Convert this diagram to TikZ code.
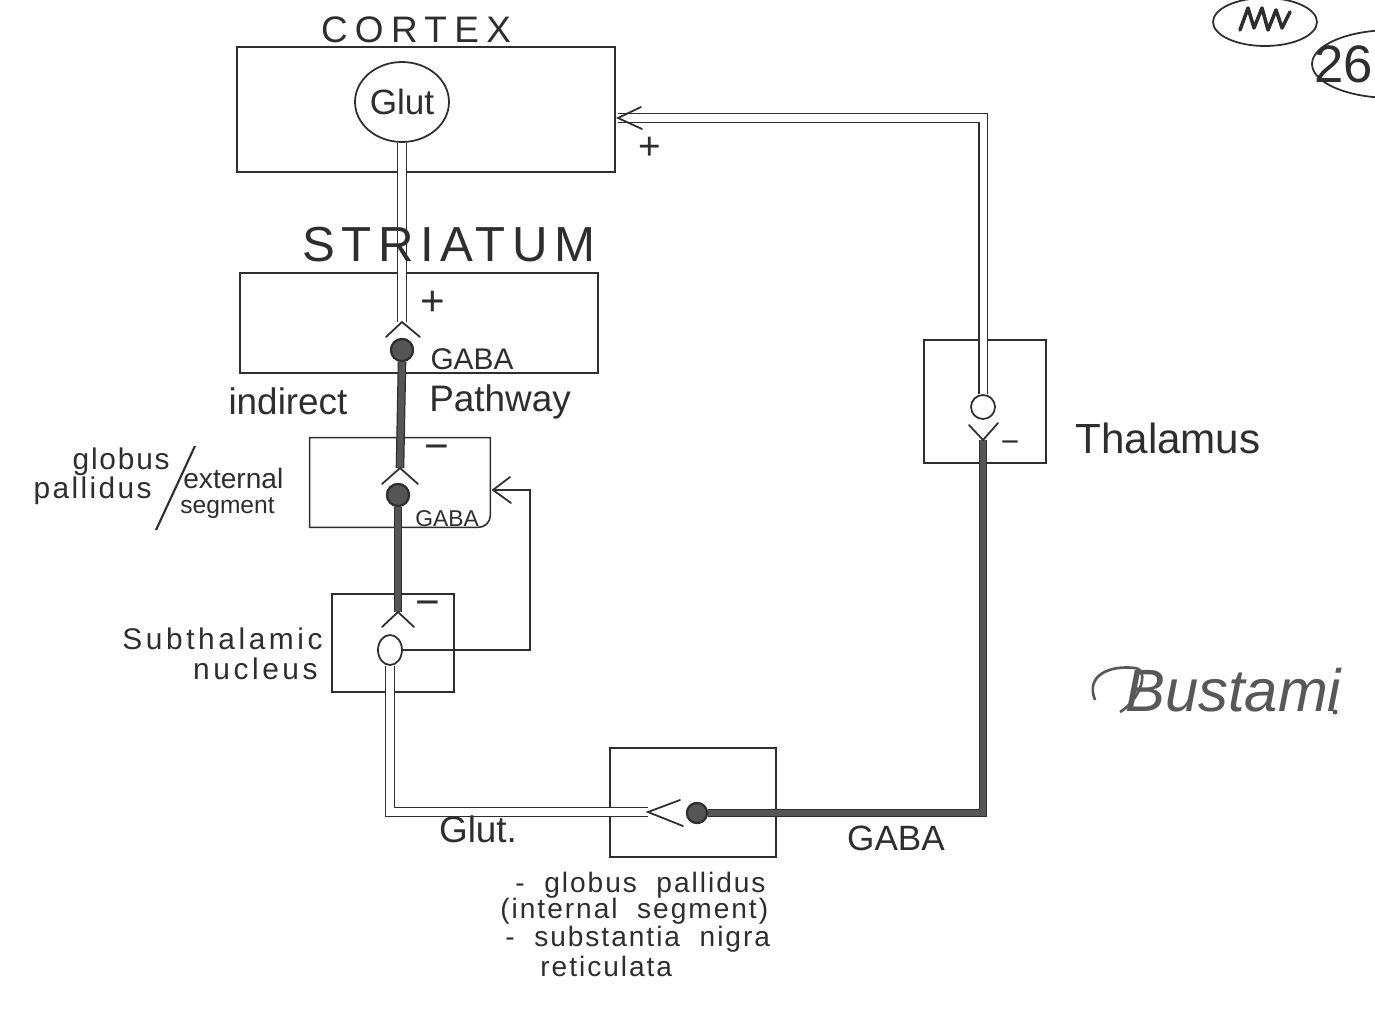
\documentclass[tikz,border=0pt]{standalone}
\usepackage{fontspec}
\setmainfont{Liberation Sans}
\newfontfamily\widefont[LetterSpace=7,WordSpace=2]{Liberation Sans}
\usetikzlibrary{shapes.geometric}
\definecolor{ink}{HTML}{2E2E2E}
\definecolor{axongray}{HTML}{555555}
\newcommand{\fsz}[1]{\fontsize{#1}{#1}\selectfont}
\begin{document}
\begin{tikzpicture}[x=0.02cm,y=-0.02cm,
  region/.style={draw=ink,line width=0.9pt,inner sep=0pt},
  lbl/.style={text=ink,inner sep=0pt},
  excit/.style={draw=ink,line width=0.7pt,double=white,double distance=4pt},
  inhib/.style={draw=ink,line width=0.7pt,double=axongray,double distance=3.5pt},
  forkline/.style={draw=ink,line width=1pt,line cap=round},
  plainline/.style={draw=ink,line width=1pt},
  somaopen/.style={ellipse,draw=ink,line width=1pt,fill=white,inner sep=0pt},
  somafill/.style={circle,draw=ink,line width=1.2pt,fill=axongray,inner sep=0pt,minimum size=0.44cm},
  bottomtext/.style={lbl,anchor=west,font=\widefont\fsz{16}},
]
\fill[white] (0,0) rectangle (1375,1010);
\useasboundingbox (0,0) rectangle (1375,1010);

% ---------- regions ----------
\node[region,minimum width=7.56cm,minimum height=2.5cm] (cortex) at (426,109.5) {};
\node[region,minimum width=7.16cm,minimum height=2cm] (striatum) at (419,323) {};
\node[inner sep=0pt,minimum width=3.6cm,minimum height=1.78cm] (gpe) at (400,482.5) {};
\draw[region] (gpe.south west) -- (gpe.north west) -- (gpe.north east)
  -- ([yshift=0.24cm]gpe.south east) to[out=-90,in=0] ([xshift=-0.24cm]gpe.south east) -- cycle;
\node[region,minimum width=2.44cm,minimum height=1.96cm] (stn) at (393,643) {};
\node[region,minimum width=3.32cm,minimum height=2.18cm] (gpi) at (693,802.5) {};
\node[region,minimum width=2.44cm,minimum height=2.46cm] (thal) at (985,401.5) {};

% ---------- neurons ----------
\node[somaopen,minimum width=1.88cm,minimum height=1.6cm,text=ink,font=\fsz{20}] (glut) at (402,102) {Glut};
\node[somafill] (sn) at (402,350) {};
\node[somafill] (gpn) at (398,495) {};
\node[somaopen,minimum width=0.48cm,minimum height=0.6cm] (stnn) at (390,650) {};
\node[somafill,minimum size=0.4cm] (gpin) at (697,813) {};
\node[somaopen,minimum width=0.48cm,minimum height=0.48cm] (thn) at (983,407) {};

% ---------- fork (terminal) coordinates ----------
\coordinate (sfork) at (402,322);
\coordinate (gfork) at (400,468);
\coordinate (stfork) at (398,612);
\coordinate (gpifork) at (648,812);
\coordinate (thfork) at (983,440);
\coordinate (cxtip) at (618,118);
\coordinate (fbtip) at (493,490);

% ---------- axons ----------
% cortex -> striatum (glutamatergic)
\draw[excit] (glut.south) -- (sfork);
\draw[forkline] (386,337) -- (sfork) -- (420,337);
% striatum -> GPe (GABA)
\draw[inhib] (sn.south) -- (gfork);
\draw[forkline] (382,484) -- (gfork) -- (418,484);
% GPe -> STN (GABA)
\draw[inhib] (gpn.south) -- (stfork);
\draw[forkline] (382,627) -- (stfork) -- (414,627);
% STN -> GPi (Glut)
\draw[excit] (stnn.south) |- (gpifork);
\draw[forkline] (680,800) -- (gpifork) -- (683,826);
% STN -> GPe feedback
\draw[plainline] (stnn.east) -- (530,650) -- (530,490) -- (fbtip);
\draw[forkline] (510,477) -- (fbtip) -- (511,503);
% GPi -> thalamus (GABA)
\draw[inhib] (gpin.east) -- (983,813) -- (thfork);
\draw[forkline] (969,425) -- (thfork) -- (998,423);
% thalamus -> cortex
\draw[excit] (thn.north) |- (cxtip);
\draw[forkline] (641,107) -- (cxtip) -- (642,129);

% redraw somata on top
\node[somafill] at (sn) {};
\node[somafill] at (gpn) {};
\node[somafill,minimum size=0.4cm] at (gpin) {};

% ---------- labels ----------
\node[lbl,font=\fsz{21}\addfontfeatures{LetterSpace=20}] (tcortex) at (416,30) {CORTEX};
\node[lbl,font=\fsz{28}\addfontfeatures{LetterSpace=13}] (tstriatum) at (449,245) {STRIATUM};
\node[lbl,font=\fsz{24}] (splus) at (433,303) {+};
\node[lbl,font=\fsz{17}] (sgaba) at (472,359) {GABA};
\node[lbl,font=\fsz{21}] (tind) at (288,401) {indirect};
\node[lbl,font=\fsz{21}] (tpath) at (500,402) {Pathway};

\node[lbl,font=\fsz{17}\addfontfeatures{LetterSpace=6},anchor=east] (tglobus) at (170,462) {globus};
\node[lbl,font=\fsz{17}\addfontfeatures{LetterSpace=8},anchor=east] (tpallidus) at (152,491) {pallidus};
\draw[plainline,line width=1.2pt] (195,446) -- (156,530);
\node[lbl,font=\fsz{16},anchor=west] (text) at (183,478) {external};
\node[lbl,font=\fsz{14},anchor=west] (tseg) at (180,508) {segment};
\node[lbl,font=\fsz{24}] (gminus) at (437,453) {−};
\node[lbl,font=\fsz{13}] (ggaba) at (447,519) {GABA};

\node[lbl,font=\fsz{17}\addfontfeatures{LetterSpace=12},anchor=east] (tsub) at (323,639) {Subthalamic};
\node[lbl,font=\fsz{17}\addfontfeatures{LetterSpace=12},anchor=east] (tnuc) at (318,669) {nucleus};
\node[lbl,font=\fsz{24}] (stminus) at (428,609) {−};

\node[lbl,font=\fsz{21}] (tglut) at (478,829) {Glut.};
\node[lbl,font=\fsz{20}] (bgaba) at (896,838) {GABA};
\node[bottomtext] (l1) at (515,885) {- globus pallidus};
\node[bottomtext] (l2) at (500,911) {(internal segment)};
\node[bottomtext] (l3) at (505,939) {- substantia nigra};
\node[bottomtext] (l4) at (540,966) {reticulata};

\node[lbl,font=\fsz{24},anchor=west] (tthal) at (1075,438) {Thalamus};
\node[lbl,font=\fsz{18}] (thminus) at (1010,447) {−};
\node[lbl,font=\fsz{22}] (cplus) at (650,148) {+};

% ---------- page marks ----------
\begin{scope}
\clip (0,0) rectangle (1375,1010);
\draw[plainline] (1265,22) ellipse [x radius=1.04cm, y radius=0.48cm];
\draw[draw=ink,line width=2pt,line cap=round,line join=round] (1240,30) -- (1248,8) -- (1254,28) -- (1262,8) -- (1268,30) -- (1276,10) -- (1282,28) -- (1290,12);
\draw[plainline] (1392,64) ellipse [x radius=1.6cm, y radius=0.68cm];
\end{scope}
\node[lbl,font=\fsz{30},anchor=east] (pnum) at (1373,64) {26};
\draw[draw=ink!80,line width=1.5pt] (1095,700) .. controls (1085,675) and (1110,665) .. (1135,668) .. controls (1150,670) and (1140,700) .. (1120,712);
\node[lbl,text=ink!80,font=\itshape\fsz{34},anchor=west] (sig) at (1125,690) {Bustami};
\fill[ink!80] (1335,712) circle [radius=0.05cm];
\end{tikzpicture}
\end{document}
